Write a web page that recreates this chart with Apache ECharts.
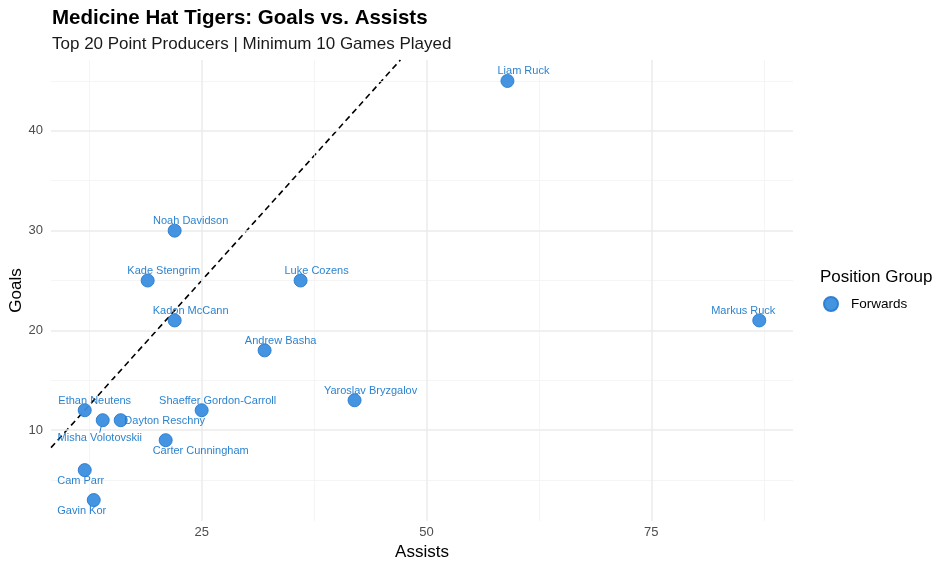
<!DOCTYPE html>
<html>
<head>
<meta charset="utf-8">
<script src="https://cdn.jsdelivr.net/npm/echarts@6/dist/echarts.min.js"></script>
<style>
  html, body { margin: 0; padding: 0; background: #fff; }
  #chart { width: 950px; height: 570px; }
</style>
</head>
<body>
<div id="chart"></div>
<script>
// player data
const players = ['Liam Ruck', 'Markus Ruck', 'Noah Davidson', 'Kade Stengrim', 'Luke Cozens',
  'Kadon McCann', 'Andrew Basha', 'Yaroslav Bryzgalov', 'Shaeffer Gordon-Carroll', 'Ethan Neutens',
  'Misha Volotovskii', 'Dayton Reschny', 'Carter Cunningham', 'Cam Parr', 'Gavin Kor'];
const assists = [59, 87, 22, 19, 36, 22, 32, 42, 25, 12, 14, 16, 21, 12, 13];
const goals = [45, 21, 30, 25, 25, 21, 18, 13, 12, 12, 11, 11, 9, 6, 3];

// axis ticks / grid
const xTicks = [25, 50, 75];
const xMinor = [12.5, 37.5, 62.5, 87.5];
const yTicks = [10, 20, 30, 40];
const yMinor = [5, 15, 25, 35, 45];

// label nudges (px) from point, repel-like placement
const labelShift = [
  [16, -10], [-16, -9.5], [16, -9.5], [16, -9.5], [16, -9.5],
  [16, -9.5], [16, -9.5], [16, -9.5], [16, -9.5], [10, -9.5],
  [-3, 18], [44, 1], [35, 11], [-4, 11], [-12, 11]
];

const FONT = '"Liberation Sans", Arial, sans-serif';
const xMin = 8.25, xMax = 90.75, yMin = 0.9, yMax = 47.1;

const chart = echarts.init(document.getElementById('chart'));

const gridLines = []
  .concat(xMinor.map(v => ({ xAxis: v, lineStyle: { color: '#f3f3f3', width: 0.8, type: 'solid' } })))
  .concat(yMinor.map(v => ({ yAxis: v, lineStyle: { color: '#f3f3f3', width: 0.8, type: 'solid' } })))
  .concat(xTicks.map(v => ({ xAxis: v, lineStyle: { color: '#ebebeb', width: 1.5, type: 'solid' } })))
  .concat(yTicks.map(v => ({ yAxis: v, lineStyle: { color: '#ebebeb', width: 1.5, type: 'solid' } })));

const option = {
  animation: false,
  textStyle: { fontFamily: FONT },
  title: {
    text: 'Medicine Hat Tigers: Goals vs. Assists',
    subtext: 'Top 20 Point Producers | Minimum 10 Games Played',
    left: 47,
    top: 3,
    itemGap: 7,
    textStyle: { fontFamily: FONT, fontSize: 20.5, fontWeight: 'bold', color: '#000' },
    subtextStyle: { fontFamily: FONT, fontSize: 17, color: '#1a1a1a' }
  },
  grid: { left: 51, right: 157, top: 60, bottom: 49, outerBoundsMode: 'none', containLabel: false },
  xAxis: {
    type: 'value',
    min: xMin,
    max: xMax,
    name: 'Assists',
    nameLocation: 'middle',
    nameGap: 23,
    nameMoveOverlap: false,
    nameTextStyle: { fontFamily: FONT, fontSize: 17, color: '#000' },
    axisLine: { show: false },
    axisTick: { show: false },
    splitLine: { show: false },
    axisLabel: { customValues: xTicks, fontFamily: FONT, fontSize: 13, color: '#4d4d4d', margin: 5 }
  },
  yAxis: {
    type: 'value',
    min: yMin,
    max: yMax,
    name: 'Goals',
    nameLocation: 'middle',
    nameGap: 26,
    nameRotate: 90,
    nameMoveOverlap: false,
    nameTextStyle: { fontFamily: FONT, fontSize: 17, color: '#000' },
    axisLine: { show: false },
    axisTick: { show: false },
    splitLine: { show: false },
    axisLabel: { customValues: yTicks, fontFamily: FONT, fontSize: 13, color: '#4d4d4d', margin: 8 }
  },
  legend: {
    data: ['Forwards'],
    left: 818,
    top: 291,
    icon: 'circle',
    itemWidth: 14,
    itemHeight: 14,
    itemGap: 8,
    textStyle: { fontFamily: FONT, fontSize: 13.5, color: '#000', padding: [0, 0, 0, 8] }
  },
  graphic: [{
    type: 'text',
    left: 820,
    top: 269,
    style: { text: 'Position Group', font: '17px ' + FONT, fill: '#000' }
  }],
  series: [
    {
      type: 'line',
      name: 'grid',
      data: [],
      silent: true,
      markLine: {
        silent: true,
        symbol: ['none', 'none'],
        label: { show: false },
        data: gridLines
      },
      z: 0
    },
    {
      type: 'line',
      name: 'parity',
      data: [[xMin, xMin], [yMax, yMax]],
      showSymbol: false,
      silent: true,
      lineStyle: { color: '#000', width: 1.6, type: [6, 4] },
      z: 2
    },
    {
      type: 'scatter',
      name: 'Forwards',
      symbolSize: 13,
      itemStyle: { color: '#3a8ee0', opacity: 0.95, borderColor: '#2a7dd0', borderWidth: 1 },
      data: players.map((p, i) => ({
        value: [assists[i], goals[i]],
        name: p,
        labelLine: { show: i === 10 }
      })),
      label: {
        show: true,
        position: 'inside',
        formatter: p => p.name,
        fontFamily: FONT,
        fontSize: 11,
        color: '#1f7bcc'
      },
      labelLine: { show: false, lineStyle: { color: '#1f7bcc', width: 1 } },
      labelLayout: p => ({ dx: labelShift[p.dataIndex][0], dy: labelShift[p.dataIndex][1] }),
      z: 5
    }
  ]
};

chart.setOption(option);
</script>
</body>
</html>
